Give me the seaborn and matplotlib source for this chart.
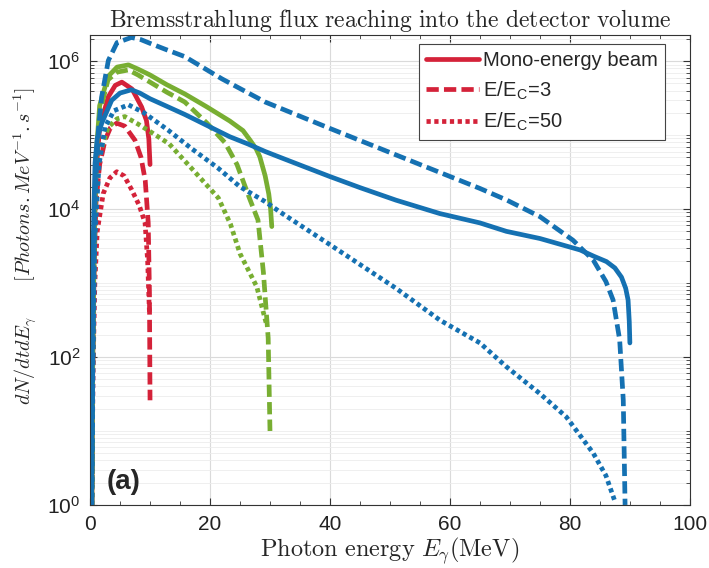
"""
Flux de Bremsstrahlung dans le volume du détecteur (spectres log)
"""

import numpy as np
import pandas as pd
import matplotlib
matplotlib.use('Agg')
import matplotlib.pyplot as plt
import matplotlib.ticker as mticker
import seaborn as sns

# Données (x en MeV, y en photons/MeV/s)
# Faisceau 90 MeV (bleu)
blue_mono_x = [0.25, 0.35, 0.5, 0.83, 1.2, 1.95, 3.6, 5.0, 6.9, 8.3, 10, 12.8, 15.8, 19.5,
               23.3, 26.3, 29.2, 31.7, 35.5, 40, 45, 51, 58.3, 65, 69.4, 75, 81.7, 84.0,
               86.1, 87.5, 88.6, 89.3, 89.7, 89.9, 90.0]
blue_mono_y = [1, 100, 3e3, 4.2e4, 9e4, 1.45e5, 2.95e5, 3.7e5, 4.1e5, 3.7e5, 3.1e5, 2.45e5,
               1.9e5, 1.35e5, 9.5e4, 7.6e4, 6.0e4, 5.0e4, 3.8e4, 2.75e4, 1.95e4, 1.32e4,
               8.7e3, 6.5e3, 5.0e3, 4.0e3, 2.8e3, 2.3e3, 1.95e3, 1.6e3, 1.2e3, 850, 590,
               300, 155]
blue_ec3_x = [0.3, 0.45, 0.6, 0.83, 1.39, 1.94, 3.05, 4.5, 6.9, 8.5, 10, 12.5, 15.8, 22,
              29.2, 40, 51, 65, 69.5, 75, 80.5, 83.9, 86.0, 87.2, 88.3, 88.9, 89.2]
blue_ec3_y = [1, 100, 1.6e3, 1.48e4, 1.17e5, 3.3e5, 1.02e6, 1.78e6, 2.09e6, 1.95e6, 1.74e6,
              1.45e6, 1.15e6, 5.75e5, 2.8e5, 1.23e5, 5.4e4, 1.9e4, 1.32e4, 7.9e3, 3.8e3,
              2.04e3, 1.05e3, 590, 170, 26, 1]
blue_ec50_x = [0.3, 0.5, 0.8, 1.5, 2.5, 4.0, 6.4, 9.0, 13.0, 17.0, 21.4, 25.0, 29.2, 31.7,
               40, 51, 58.3, 65, 69.4, 75, 79.4, 83.9, 86.0, 87.5]
blue_ec50_y = [1, 100, 4.0e3, 4.0e4, 1.29e5, 2.14e5, 2.57e5, 2.0e5, 1.17e5, 6.5e4, 3.55e4,
               2.0e4, 1.26e4, 9.1e3, 3.3e3, 850, 316, 155, 74, 32, 15.5, 5.0, 2.5, 1.12]

# Faisceau 30 MeV (vert)
green_mono_x = [0.3, 0.45, 0.7, 1.0, 1.6, 3.0, 4.5, 6.4, 8.0, 10, 12.8, 15.8, 19.5, 23.3,
                25.5, 26.7, 27.7, 28.3, 29.2, 29.8, 30.1, 30.3]
green_mono_y = [1, 100, 5e3, 5e4, 2.5e5, 6.2e5, 8.3e5, 8.9e5, 7.8e5, 6.5e5, 4.8e5, 3.6e5,
                2.4e5, 1.55e5, 1.15e5, 8.5e4, 6.5e4, 5.1e4, 2.8e4, 1.6e4, 1e4, 5.8e3]
green_ec3_x = [0.3, 0.45, 0.7, 1.0, 1.6, 3.0, 4.5, 6.4, 8.0, 10, 12.8, 15.8, 19.5, 22.5,
               24.5, 26.7, 28.0, 28.9, 29.7, 30.0]
green_ec3_y = [1, 100, 4e3, 4e4, 2e5, 5.6e5, 7.1e5, 7.6e5, 6.5e5, 5.2e5, 3.8e5, 2.8e5,
               1.45e5, 7.9e4, 4e4, 1.32e4, 7.1e3, 1.4e3, 180, 10]
green_ec50_x = [0.3, 0.45, 0.7, 1.0, 1.6, 3.0, 4.5, 5.8, 8.0, 10.0, 13.2, 17.0, 21.4, 23.4,
                25.0, 27.8, 28.9, 29.4]
green_ec50_y = [1, 100, 2.5e3, 1.6e4, 5.6e4, 1.26e5, 1.66e5, 1.78e5, 1.41e5, 1.12e5, 7.6e4,
                3.5e4, 1.41e4, 6.3e3, 2.5e3, 890, 400, 280]

# Faisceau 10 MeV (rouge)
red_mono_x = [0.3, 0.45, 0.7, 1.0, 1.6, 3.05, 4.2, 5.3, 7.0, 8.6, 9.4, 9.8, 10.0]
red_mono_y = [1, 100, 4e3, 3.2e4, 1.26e5, 3.3e5, 4.7e5, 5.2e5, 4.2e5, 2.4e5, 1.58e5, 8.9e4, 4e4]
red_ec3_x = [0.3, 0.45, 0.7, 1.0, 1.6, 2.5, 3.4, 4.45, 5.8, 7.5, 8.5, 9.2, 9.7, 9.9, 10.0]
red_ec3_y = [1, 63, 2e3, 1.26e4, 4e4, 8.5e4, 1.26e5, 1.45e5, 1.32e5, 8.5e4, 5e4, 2.45e4,
             6.5e3, 790, 26]
red_ec50_x = [0.3, 0.5, 0.8, 1.2, 2.2, 3.3, 4.45, 5.7, 6.95, 8.2, 9.17, 9.6, 9.9]
red_ec50_y = [1, 63, 1e3, 5e3, 1.62e4, 2.63e4, 3.2e4, 2.8e4, 1.82e4, 1.12e4, 6.5e3, 2e3, 400]

legend_labels = ['Mono-energy beam', r'E/E$_{\mathregular{C}}$=3', r'E/E$_{\mathregular{C}}$=50']

# Style
RED = '#D42239'
GREEN = '#78AE32'
BLUE = '#1571B2'
LS_SOLID = '-'
LS_DASH = (0, (2.6, 1.1))
LS_DOT = (0, (0.9, 0.75))
LW = 3.4

sns.set_style('ticks')
plt.rcParams['font.family'] = ['Liberation Sans', 'DejaVu Sans']
plt.rcParams['mathtext.fontset'] = 'cm'

fig = plt.figure(figsize=(7.09, 5.68), dpi=100)
ax = fig.add_axes([0.127, 0.111, 0.846, 0.827])

series = [
    (red_mono_x, red_mono_y, RED, LS_SOLID, legend_labels[0]),
    (red_ec3_x, red_ec3_y, RED, LS_DASH, legend_labels[1]),
    (red_ec50_x, red_ec50_y, RED, LS_DOT, legend_labels[2]),
    (green_mono_x, green_mono_y, GREEN, LS_SOLID, None),
    (green_ec3_x, green_ec3_y, GREEN, LS_DASH, None),
    (green_ec50_x, green_ec50_y, GREEN, LS_DOT, None),
    (blue_ec50_x, blue_ec50_y, BLUE, LS_DOT, None),
    (blue_ec3_x, blue_ec3_y, BLUE, LS_DASH, None),
    (blue_mono_x, blue_mono_y, BLUE, LS_SOLID, None),
]

for xs, ys, col, ls, lab in series:
    df = pd.DataFrame({'E': xs, 'flux': ys})
    kw = {'label': lab} if lab else {}
    sns.lineplot(data=df, x='E', y='flux', ax=ax, color=col, linestyle=ls,
                 lw=LW, estimator=None, sort=False, solid_joinstyle='round',
                 dash_joinstyle='round', **kw)

ax.set_yscale('log')
ax.set_xlim(0, 100)
ax.set_ylim(1, 2.24e6)
ax.set_xticks([0, 20, 40, 60, 80, 100])
ax.xaxis.set_minor_locator(mticker.MultipleLocator(5))
ax.set_yticks([1, 1e2, 1e4, 1e6])
ax.yaxis.set_minor_locator(mticker.LogLocator(base=10, subs=np.arange(1, 10), numticks=50))
ax.yaxis.set_minor_formatter(mticker.NullFormatter())

ax.grid(which='major', color='#dadada', lw=0.8)
ax.grid(which='minor', axis='y', color='#ececec', lw=0.6)
ax.set_axisbelow(True)

ax.tick_params(which='both', direction='in', top=True, right=True, colors='#333333')
ax.tick_params(which='major', length=5, labelsize=15, labelcolor='#222222', pad=7)
ax.tick_params(which='minor', length=3)
for sp in ax.spines.values():
    sp.set_color('#333333')
    sp.set_linewidth(0.8)

ax.set_title(r'$\mathrm{Bremsstrahlung\ flux\ reaching\ into\ the\ detector\ volume}$',
             fontsize=17, pad=6)
ax.set_xlabel(r'$\mathrm{Photon\ energy}\ E_\gamma\mathrm{(MeV)}$', fontsize=17.5, labelpad=1)
ax.set_ylabel(r'$dN/dtdE_\gamma\qquad[Photons.MeV^{-1}.s^{-1}]$', fontsize=14.5)
ax.yaxis.set_label_coords(-0.085, 0.55)

ax.text(0.028, 0.022, '(a)', transform=ax.transAxes, fontsize=20, fontweight='bold',
        ha='left', va='bottom')

leg = ax.legend(loc='upper right', bbox_to_anchor=(0.958, 0.981), borderaxespad=0,
                fontsize=14.5, handlelength=2.6, handletextpad=0.2, labelspacing=0.45,
                fancybox=False, framealpha=1, edgecolor='#444444', borderpad=0.35)
leg.get_frame().set_linewidth(0.8)

plt.savefig('out.png', dpi=100)
plt.close()
